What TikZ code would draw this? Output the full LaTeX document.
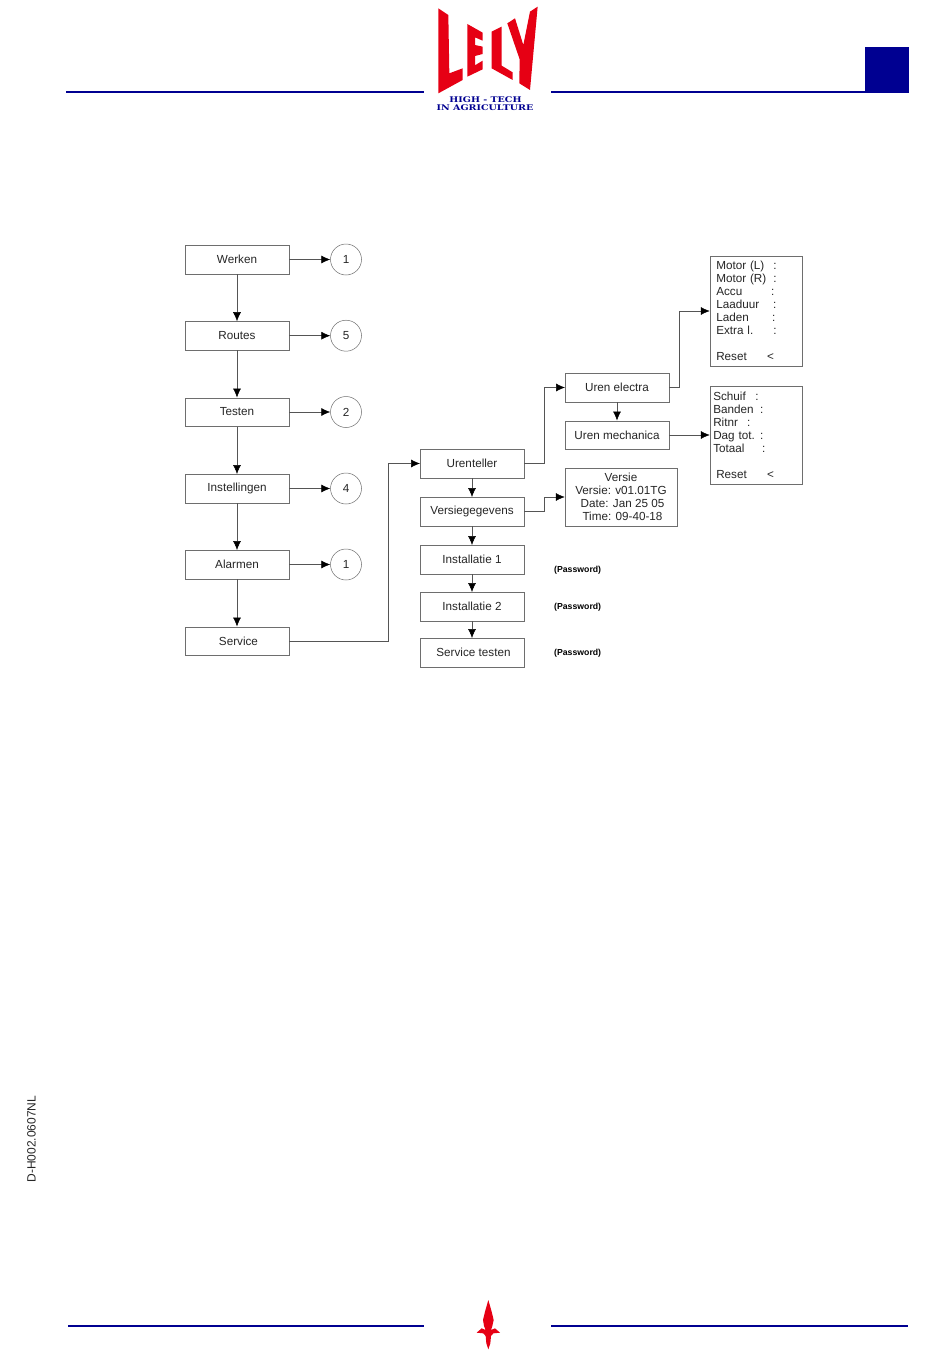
\documentclass[tikz,border=0pt]{standalone}
\usepackage{fontspec}
\setmainfont{Liberation Sans}
\newfontfamily\logofont{DejaVu Serif}
\usetikzlibrary{arrows.meta}
\definecolor{lelyblue}{RGB}{0,0,145}
\definecolor{lelyred}{RGB}{230,0,20}
\definecolor{boxline}{RGB}{110,110,110}
\definecolor{linkline}{RGB}{85,85,85}
\newcommand{\kv}[2]{\makebox[#2pt][l]{#1}:}
\tikzset{
  x=1pt,y=-1pt,
  boxnode/.style={draw=boxline,line width=0.5pt,minimum width=103.5pt,minimum height=28.5pt,inner sep=0pt,font=\fontsize{11.7}{13}\selectfont,text=black!85},
  circnode/.style={draw=boxline,line width=0.5pt,circle,minimum size=31pt,inner sep=0pt,font=\fontsize{11.7}{13}\selectfont,text=black!85},
  panelnode/.style={draw=boxline,line width=0.5pt,minimum width=92pt,text width=85.5pt,inner xsep=3.25pt,inner ysep=0pt,align=left,font=\fontsize{11.7}{13}\selectfont,text=black!85},
  pwnode/.style={anchor=west,inner sep=0pt,font=\fontsize{8.7}{10}\selectfont\bfseries},
  conn/.style={draw=linkline,line width=0.5pt,-{Latex[length=9pt,width=8pt,black]}},
  ruleline/.style={draw=lelyblue,line width=1.1pt},
  logoshape/.style={fill=lelyred,draw=none},
  logotext/.style={inner sep=0pt,text=lelyblue,xscale=1.22,font=\logofont\bfseries\fontsize{7.8}{8}\selectfont}
}
\begin{document}
\begin{tikzpicture}
\useasboundingbox[fill=white] (0,0) rectangle (950,1370);
% header and footer
\draw[ruleline] (66,92) -- (424,92);
\draw[ruleline] (551,92) -- (865,92);
\fill[lelyblue] (865,47) rectangle (909,93);
\draw[ruleline] (68,1326) -- (424,1326);
\draw[ruleline] (551,1326) -- (908,1326);
\node[rotate=90,inner sep=0pt,font=\fontsize{12}{14}\selectfont,text=black!85] (docid) at (31.5,1139) {D-H002.0607NL};
% logo
\begin{scope}[shift={(420,0)},x=0.3333pt,y=-0.3333pt]
\fill[logoshape] (55,25) -- (85,45) -- (88,220) -- (128,205) -- (128,240) -- (55,280) -- cycle;
\fill[logoshape] (142,72) -- (188,98) -- (188,122) -- (165,112) -- (165,135) -- (188,140) -- (188,162) -- (165,168) -- (165,196) -- (188,182) -- (188,208) -- (142,230) -- cycle;
\fill[logoshape] (215,95) -- (245,80) -- (245,197) -- (278,217) -- (278,240) -- (215,205) -- cycle;
\fill[logoshape] (262,70) -- (285,55) -- (310,135) -- (330,35) -- (353,20) -- (330,270) -- (298,250) -- (299,178) -- cycle;
\end{scope}
\node[logotext] (logoa) at (485.5,100) {HIGH - TECH};
\node[logotext] (logob) at (485,108) {IN AGRICULTURE};
% bottom mark
\begin{scope}[shift={(460,1290)},x=0.3333pt,y=-0.3333pt]
\fill[logoshape] (85,30) -- (95,65) -- (101,90) -- (97,108) -- (93,120) -- (105,115) -- (120,128) -- (100,130) -- (93,138) -- (91,160) -- (85,178) -- (79,160) -- (77,138) -- (70,130) -- (50,128) -- (65,115) -- (77,120) -- (72,108) -- (69,90) -- (75,65) -- cycle;
\end{scope}
% left column
\node[boxnode] (werken) at (237,259.5) {Werken};
\node[boxnode] (routes) at (237,335.7) {\raisebox{-0.5pt}{Routes}};
\node[boxnode] (testen) at (237,412) {\raisebox{-0.5pt}{Testen}};
\node[boxnode] (inst) at (237,488.5) {\raisebox{-0.5pt}{Instellingen}};
\node[boxnode] (alarm) at (237,564.5) {Alarmen};
\node[boxnode] (service) at (237,641) {\hspace{3pt}Service};
\node[circnode] (c1) at (346,259.5) {1};
\node[circnode] (c5) at (346,335.7) {5};
\node[circnode] (c2) at (346,412) {2};
\node[circnode] (c4) at (346,488.5) {4};
\node[circnode] (c6) at (346,564.5) {1};
% middle column
\node[boxnode] (uren) at (472,463.5) {Urenteller};
\node[boxnode] (versg) at (472,511.5) {Versiegegevens};
\node[boxnode] (inst1) at (472,559.5) {Installatie 1};
\node[boxnode] (inst2) at (472,606.5) {Installatie 2};
\node[boxnode] (stest) at (472,652.5) {\hspace{3pt}Service testen};
\node[pwnode] (pw1) at (554,570.5) {(Password)};
\node[pwnode] (pw2) at (554,607.5) {(Password)};
\node[pwnode] (pw3) at (554,653) {(Password)};
% right column
\node[boxnode] (elec) at (617,387.5) {Uren electra};
\node[boxnode] (mech) at (617,435) {Uren mechanica};
\node[boxnode,minimum width=112pt,minimum height=58pt,align=center] (versie) at (621,497) {Versie\\Versie: v01.01TG\\\hspace{3pt}Date: Jan 25 05\\\hspace{3pt}Time: 09-40-18};
\node[panelnode,minimum height=110pt] (p1) at (756,311) {\hspace{3pt}\kv{Motor (L)}{57}\\\hspace{3pt}\kv{Motor (R)}{57}\\\hspace{3pt}\kv{Accu}{55}\\\hspace{3pt}\kv{Laaduur}{57}\\\hspace{3pt}\kv{Laden}{56}\\\hspace{3pt}\kv{Extra l.}{57}\\[13pt]\hspace{3pt}\makebox[51pt][l]{Reset}<};
\node[panelnode,minimum height=98pt] (p2) at (756,435) {\kv{Schuif}{42}\\\kv{Banden}{47}\\\kv{Ritnr}{34}\\\kv{Dag tot.}{47}\\\kv{Totaal}{49}\\[13pt]\hspace{3pt}\makebox[51pt][l]{Reset}<};
% connectors
\draw[conn] (werken) -- (routes);
\draw[conn] (routes) -- (testen);
\draw[conn] (testen) -- (inst);
\draw[conn] (inst) -- (alarm);
\draw[conn] (alarm) -- (service);
\draw[conn] (werken) -- (c1);
\draw[conn] (routes) -- (c5);
\draw[conn] (testen) -- (c2);
\draw[conn] (inst) -- (c4);
\draw[conn] (alarm) -- (c6);
\draw[conn] (service.east) -- (388,641) |- (uren.west);
\draw[conn] (uren) -- (versg);
\draw[conn] (versg) -- (inst1);
\draw[conn] (inst1) -- (inst2);
\draw[conn] (inst2) -- (stest);
\draw[conn] (uren.east) -- (544,463.5) |- (elec.west);
\draw[conn] (versg.east) -- (544,511.5) |- (versie.west);
\draw[conn] (elec.east) -- (679,387.5) |- (p1.west);
\draw[conn] (elec) -- (mech);
\draw[conn] (mech) -- (p2);
\end{tikzpicture}
\end{document}
